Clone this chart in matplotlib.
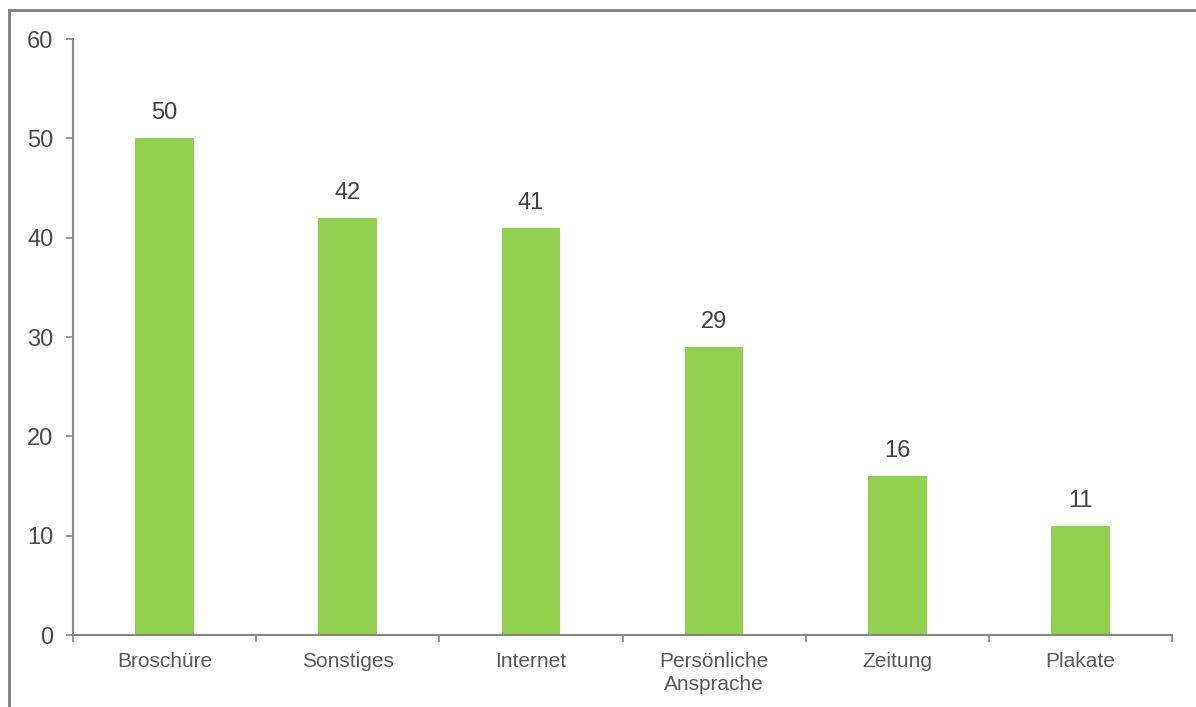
import matplotlib
matplotlib.use("Agg")
import matplotlib.pyplot as plt
from matplotlib.lines import Line2D

categories = ["Broschüre", "Sonstiges", "Internet", "Persönliche\nAnsprache", "Zeitung", "Plakate"]
values = [50, 42, 41, 29, 16, 11]
yticks = [0, 10, 20, 30, 40, 50, 60]

plt.rcParams['font.family'] = ['Liberation Sans', 'DejaVu Sans']
W, H = 1196, 707
fig = plt.figure(figsize=(W/100, H/100), dpi=100)
ax = fig.add_axes([73/W, 1-635/H, (1172-73)/W, (635-39)/H])

gray = "#868686"
txt = "#404040"
x = list(range(len(categories)))
ax.bar(x, values, width=0.32, color="#92D050", zorder=2)
for xi, v in zip(x, values):
    ax.text(xi, v + 1.4, str(v), ha="center", va="bottom", fontsize=17, color=txt)

ax.set_xlim(-0.5, len(categories) - 0.5)
ax.set_ylim(0, 60)
ax.set_yticks(yticks)
ax.set_yticklabels([str(t) for t in yticks], fontsize=17, color="#4a4a4a")
ax.set_xticks([i - 0.5 for i in range(len(categories) + 1)])
ax.set_xticklabels([])
ax.set_xticks(x, minor=True)
ax.set_xticklabels(categories, minor=True, fontsize=15, color="#595959", linespacing=1.28)
ax.tick_params(axis="x", which="minor", length=0, pad=12)
ax.tick_params(axis="x", which="major", length=5, color=gray, width=1.2)
ax.tick_params(axis="y", length=5, color=gray, width=1.2, pad=9)
for s in ["top", "right"]:
    ax.spines[s].set_visible(False)
for s in ["left", "bottom"]:
    ax.spines[s].set_color(gray)
    ax.spines[s].set_linewidth(1.5)

# figure frame (top and left edges visible)
fig.add_artist(Line2D([8.5/W, 1], [1-9.5/H, 1-9.5/H], color="#7f7f7f", lw=2, transform=fig.transFigure))
fig.add_artist(Line2D([8.5/W, 8.5/W], [0, 1-9.5/H], color="#7f7f7f", lw=2, transform=fig.transFigure))

fig.savefig("out.png", dpi=100)
